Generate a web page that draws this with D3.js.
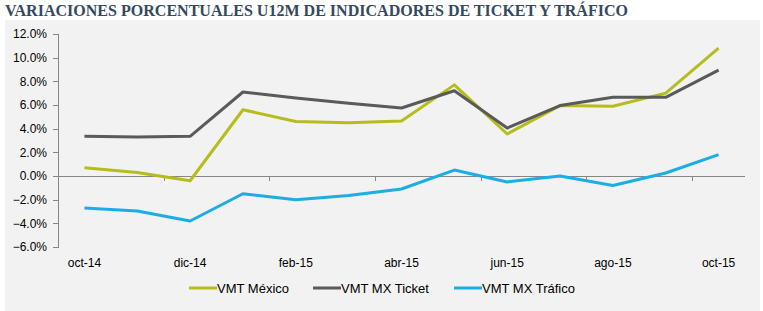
<!DOCTYPE html>
<meta charset="utf-8">
<style>
body { margin: 0; background: #fff; }
.axis text { font: 12px "Liberation Sans", Arial, sans-serif; fill: #000; }
.axis line, .axis path { fill: none; stroke: #868686; shape-rendering: crispEdges; }
.legend text { font: 13px "Liberation Sans", Arial, sans-serif; fill: #000; }
</style>
<body>
<div id="chart"></div>
<script src="https://cdn.jsdelivr.net/npm/d3@7"></script>
<script>
var months = ["oct-14","nov-14","dic-14","ene-15","feb-15","mar-15","abr-15","may-15","jun-15","jul-15","ago-15","sep-15","oct-15"];
var mexico  = [0.7, 0.3, -0.4, 5.6, 4.6, 4.5, 4.65, 7.7, 3.55, 5.95, 5.9, 7.0, 10.8];
var ticket  = [3.35, 3.3, 3.35, 7.1, 6.6, 6.15, 5.75, 7.2, 4.05, 5.95, 6.65, 6.65, 8.95];
var trafico = [-2.7, -2.95, -3.8, -1.5, -2.0, -1.65, -1.1, 0.5, -0.5, 0.0, -0.8, 0.25, 1.8];
var yTicks = [-6, -4, -2, 0, 2, 4, 6, 8, 10, 12];
var series = [
  {name: "VMT México", values: mexico, color: "#b5bd1c"},
  {name: "VMT MX Ticket", values: ticket, color: "#5a5a5a"},
  {name: "VMT MX Tráfico", values: trafico, color: "#1aaee5"}
];

var W = 763, H = 311;
var svg = d3.select("#chart").append("svg").attr("width", W).attr("height", H);

svg.append("rect").attr("x", 5).attr("y", 20).attr("width", 755).attr("height", 291).attr("fill", "#f2f2f2");

svg.append("text")
  .attr("x", 5).attr("y", 16)
  .attr("textLength", 623).attr("lengthAdjust", "spacingAndGlyphs")
  .style("font", "bold 16px 'Liberation Serif', serif")
  .style("fill", "#34495e")
  .text("VARIACIONES PORCENTUALES U12M DE INDICADORES DE TICKET Y TRÁFICO");

var plotL = 58, plotR = 745, plotT = 34, plotB = 247;

var x = d3.scaleBand().domain(months).range([plotL, plotR]);
var y = d3.scaleLinear().domain([-6, 12]).range([plotB, plotT]);

// y axis
var yAxis = d3.axisLeft(y).tickValues(yTicks).tickSizeOuter(0).tickSize(5).tickPadding(6)
  .tickFormat(function(d) { return d3.format(".1f")(d) + "%"; });
svg.append("g").attr("class", "axis").attr("transform", "translate(" + plotL + ",0)").call(yAxis);

// zero line with ticks every two categories
var gx = svg.append("g").attr("class", "axis");
gx.append("line").attr("x1", plotL).attr("x2", plotR).attr("y1", y(0)).attr("y2", y(0));
gx.selectAll(".tk").data(d3.range(2, months.length, 2)).enter().append("line")
  .attr("x1", function(i) { return Math.round(plotL + i * x.step()); })
  .attr("x2", function(i) { return Math.round(plotL + i * x.step()); })
  .attr("y1", y(0)).attr("y2", y(0) + 5);

// category labels
gx.selectAll(".lbl").data(months.filter(function(d, i) { return i % 2 === 0; })).enter().append("text")
  .attr("x", function(d) { return x(d) + x.bandwidth() / 2; })
  .attr("y", 267)
  .attr("text-anchor", "middle")
  .text(function(d) { return d; });

var line = d3.line()
  .x(function(d, i) { return x(months[i]) + x.bandwidth() / 2; })
  .y(function(d) { return y(d); });

svg.selectAll(".series").data(series).enter().append("path")
  .attr("fill", "none")
  .attr("stroke", function(d) { return d.color; })
  .attr("stroke-width", 3)
  .attr("stroke-linejoin", "round")
  .attr("d", function(d) { return line(d.values); });

// legend
var legX = [189, 313, 454];
var leg = svg.selectAll(".legend").data(series).enter().append("g")
  .attr("class", "legend")
  .attr("transform", function(d, i) { return "translate(" + legX[i] + ",288)"; });
leg.append("line").attr("x1", 0).attr("x2", 28).attr("stroke", function(d) { return d.color; }).attr("stroke-width", 3);
leg.append("text").attr("x", 28).attr("y", 5).text(function(d) { return d.name; });
</script>
</body>
